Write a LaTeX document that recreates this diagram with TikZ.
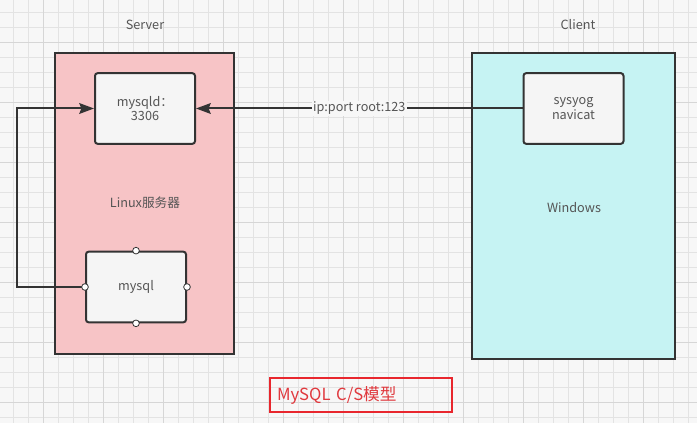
\documentclass[tikz,border=0pt]{standalone}
\usepackage{fontspec}
\setmainfont{Noto Sans CJK SC}
\usetikzlibrary{arrows.meta}
\definecolor{bg}{HTML}{F7F7F7}
\definecolor{gridminor}{HTML}{E3E3E3}
\definecolor{gridmajor}{HTML}{D6D6D6}
\definecolor{pinkfill}{HTML}{F7C4C6}
\definecolor{cyanfill}{HTML}{C6F3F3}
\definecolor{edge}{HTML}{333333}
\definecolor{boxfill}{HTML}{F5F5F5}
\definecolor{txt}{HTML}{555555}
\definecolor{redline}{HTML}{E8262D}
\definecolor{redtxt}{HTML}{E0393E}
\tikzset{
  innerbox/.style={draw=edge, fill=boxfill, line width=1.5pt, rounded corners=2pt,
    minimum width=75pt, minimum height=53pt, align=center, text=txt, font=\fontsize{9.5}{11}\selectfont, inner sep=0pt},
  lbl/.style={text=txt, font=\fontsize{9.5}{11}\selectfont},
  conn/.style={draw=edge, line width=1.5pt},
  arr/.style={conn, -{Stealth[length=11pt,width=8pt,inset=1.5pt]}},
  port/.style={circle, draw=edge, fill=white, line width=0.6pt, inner sep=0pt, minimum size=5pt}
}
\begin{document}
\begin{tikzpicture}[x=0.75pt,y=-0.75pt]
\fill[bg] (0,0) rectangle (697,423);
\useasboundingbox (0,0) rectangle (697,423);
\foreach \i in {0,...,46} {\draw[gridminor, line width=0.5pt] ({13+15*\i},0) -- ({13+15*\i},423);}
\foreach \i in {0,...,28} {\draw[gridminor, line width=0.5pt] (0,{12+15*\i}) -- (697,{12+15*\i});}
\foreach \i in {0,...,11} {\draw[gridmajor, line width=0.5pt] ({43+60*\i},0) -- ({43+60*\i},423);}
\foreach \i in {0,...,6} {\draw[gridmajor, line width=0.5pt] (0,{42+60*\i}) -- (697,{42+60*\i});}

% containers
\node[draw=edge, fill=pinkfill, line width=1.5pt, minimum width=134.25pt, minimum height=225.75pt, inner sep=0pt] (server) at (144.5,203.5) {};
\node[draw=edge, fill=cyanfill, line width=1.5pt, minimum width=152.25pt, minimum height=229.5pt, inner sep=0pt] (client) at (573.5,206) {};

\node[lbl] (servert) at (145,25) {Server};
\node[lbl] (clientt) at (578,25) {Client};
\node[lbl] (linux) at (145,203) {Linux服务器};
\node[lbl] (win) at (574,208) {Windows};

% inner boxes
\node[innerbox] (mysqld) at (145,108.5) {mysqld：\\3306};
\node[innerbox] (nav) at (573.5,108.5) {sysyog\\navicat};
\node[innerbox] (mysql) at (136,287) {mysql};

\node[port] (pt) at (mysql.north) {};
\node[port] (pb) at (mysql.south) {};
\node[port] (pr) at (mysql.east) {};

% connectors
\coordinate (c1) at (17,287);
\coordinate (c2) at (17,108.5);
\draw[arr] (mysql.west) -- (c1) -- (c2) -- (mysqld.west);
\node[port] (pl) at (mysql.west) {};
\draw[arr] (nav.west) -- node[fill=bg, text=txt, font=\fontsize{9.5}{11}\selectfont, inner sep=1pt] (conlbl) {ip:port root:123} (mysqld.east);

% title
\node[draw=redline, line width=1.2pt, minimum width=136.5pt, minimum height=25.5pt, text width=126pt, align=left, inner xsep=5pt, text=redtxt, font=\fontsize{12.5}{14}\selectfont] (title) at (361,395) {MySQL C/S模型};
\end{tikzpicture}
\end{document}
